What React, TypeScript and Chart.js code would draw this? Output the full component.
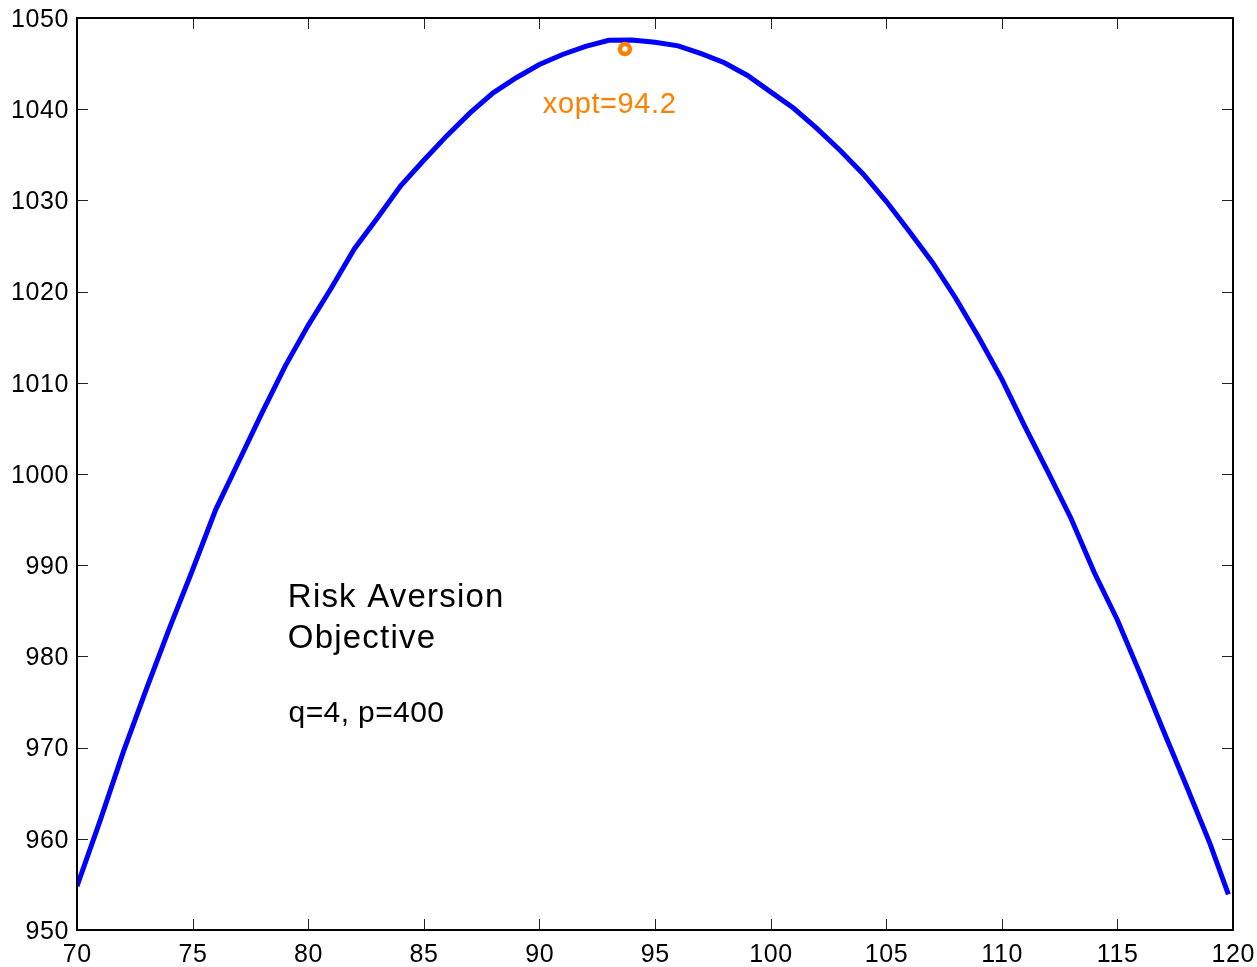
import React, { useEffect, useRef } from "react";
import { Chart, registerables } from "chart.js";

Chart.register(...registerables);

// x positions of the objective curve
const xValues = [
  70, 71, 72, 73, 74, 75, 76, 77, 78, 79, 80, 81, 82, 83, 84, 85, 86, 87, 88, 89,
  90, 91, 92, 93, 94, 95, 96, 97, 98, 99, 100, 101, 102, 103, 104, 105, 106, 107,
  108, 109, 110, 111, 112, 113, 114, 115, 116, 117, 118, 119, 119.8,
];

// objective values
const objectiveValues = [
  954.8, 962.0, 969.5, 976.4, 983.1, 989.5, 996.1, 1001.4, 1006.7, 1011.8,
  1016.3, 1020.4, 1024.7, 1028.1, 1031.6, 1034.4, 1037.1, 1039.6, 1041.8, 1043.45,
  1044.9, 1046.0, 1046.9, 1047.55, 1047.6, 1047.35, 1046.95, 1046.1, 1045.1, 1043.7,
  1041.9, 1040.1, 1037.9, 1035.5, 1032.9, 1029.9, 1026.6, 1023.2, 1019.3, 1015.0,
  1010.4, 1005.2, 1000.2, 995.1, 989.2, 984.0, 978.0, 971.8, 965.7, 959.5, 953.9,
];

// optimum marker
const optX = [93.7];
const optY = [1046.6];

const xTickValues = [70, 75, 80, 85, 90, 95, 100, 105, 110, 115, 120];
const xTickLabels = ["70", "75", "80", "85", "90", "95", "100", "105", "110", "115", "120"];
const yTickValues = [950, 960, 970, 980, 990, 1000, 1010, 1020, 1030, 1040, 1050];
const yTickLabels = ["950", "960", "970", "980", "990", "1000", "1010", "1020", "1030", "1040", "1050"];

const optLabel = "xopt=94.2";
const titleLines = ["Risk Aversion", "Objective"];
const paramLabel = "q=4, p=400";

const FONT = "Arial, 'Liberation Sans', Helvetica, sans-serif";
const ORANGE = "#ff8000";

function setSpacing(ctx: any, px: number) {
  if ("letterSpacing" in ctx) ctx.letterSpacing = `${px}px`;
}

const framePlugin = {
  id: "matlabFrame",
  afterDatasetsDraw(chart: any) {
    const { ctx, chartArea, scales } = chart;
    const { left, right, top, bottom } = chartArea;
    const xs = scales.x;
    const ys = scales.y;
    ctx.save();
    // tick marks (inward, all four sides)
    ctx.strokeStyle = "#222";
    ctx.lineWidth = 1;
    const tl = 11;
    ctx.beginPath();
    for (const v of xTickValues) {
      const px = Math.round(xs.getPixelForValue(v)) + 0.5;
      ctx.moveTo(px, bottom);
      ctx.lineTo(px, bottom - tl);
      ctx.moveTo(px, top);
      ctx.lineTo(px, top + tl);
    }
    for (const v of yTickValues) {
      const py = Math.round(ys.getPixelForValue(v)) + 0.5;
      ctx.moveTo(left, py);
      ctx.lineTo(left + tl, py);
      ctx.moveTo(right, py);
      ctx.lineTo(right - tl, py);
    }
    ctx.stroke();
    // frame
    ctx.strokeStyle = "#000";
    ctx.lineWidth = 2;
    ctx.strokeRect(left, top, right - left, bottom - top);

    // tick labels
    ctx.fillStyle = "#000";
    ctx.font = `25px ${FONT}`;
    setSpacing(ctx, 0.6);
    ctx.textBaseline = "alphabetic";
    ctx.textAlign = "right";
    yTickValues.forEach((v, i) => {
      ctx.fillText(yTickLabels[i], left - 8, ys.getPixelForValue(v) + 8.8);
    });
    ctx.textAlign = "center";
    xTickValues.forEach((v, i) => {
      ctx.fillText(xTickLabels[i], xs.getPixelForValue(v) + 0.3, bottom + 32);
    });

    // annotations
    ctx.textAlign = "left";
    ctx.fillStyle = ORANGE;
    ctx.font = `29px ${FONT}`;
    setSpacing(ctx, 0.6);
    ctx.fillText(optLabel, xs.getPixelForValue(90.15), ys.getPixelForValue(1039.6));

    ctx.fillStyle = "#000";
    ctx.font = `33px ${FONT}`;
    setSpacing(ctx, 1.2);
    ctx.fillText(titleLines[0], xs.getPixelForValue(79.12), ys.getPixelForValue(985.4));
    ctx.fillText(titleLines[1], xs.getPixelForValue(79.12), ys.getPixelForValue(980.9));
    ctx.font = `30px ${FONT}`;
    setSpacing(ctx, 0.4);
    ctx.fillText(paramLabel, xs.getPixelForValue(79.15), ys.getPixelForValue(972.8));
    ctx.restore();
  },
};

export default function App() {
  const canvasRef = useRef<HTMLCanvasElement | null>(null);

  useEffect(() => {
    if (!canvasRef.current) return;
    const chart = new Chart(canvasRef.current, {
      type: "line",
      data: {
        datasets: [
          {
            label: "objective",
            data: xValues.map((x, i) => ({ x, y: objectiveValues[i] })),
            borderColor: "#0000ff",
            borderWidth: 5,
            pointRadius: 0,
            fill: false,
            tension: 0,
            order: 2,
          },
          {
            label: "opt",
            type: "scatter",
            data: optX.map((x, i) => ({ x, y: optY[i] })),
            borderColor: ORANGE,
            pointBorderColor: ORANGE,
            backgroundColor: "rgba(0,0,0,0)",
            pointBackgroundColor: "rgba(0,0,0,0)",
            borderWidth: 4.5,
            pointRadius: 5,
            pointBorderWidth: 4.5,
            showLine: false,
            order: 1,
          },
        ],
      },
      options: {
        animation: false,
        responsive: false,
        maintainAspectRatio: false,
        layout: { padding: { left: 0, right: 24, top: 18, bottom: 0 } },
        plugins: {
          legend: { display: false },
          tooltip: { enabled: false },
          title: { display: false },
        },
        scales: {
          x: {
            type: "linear",
            min: 70,
            max: 120,
            grid: { display: false, drawTicks: false },
            border: { display: false },
            ticks: { display: false },
            afterFit: (s: any) => {
              s.height = 37;
              s.paddingLeft = 0;
              s.paddingRight = 0;
              s.paddingTop = 0;
              s.paddingBottom = 0;
            },
          },
          y: {
            type: "linear",
            min: 950,
            max: 1050,
            grid: { display: false, drawTicks: false },
            border: { display: false },
            ticks: { display: false },
            afterFit: (s: any) => {
              s.width = 77;
              s.paddingLeft = 0;
              s.paddingRight = 0;
              s.paddingTop = 0;
              s.paddingBottom = 0;
            },
          },
        },
      },
      plugins: [framePlugin],
    });
    return () => chart.destroy();
  }, []);

  return (
    <div style={{ position: "absolute", left: 0, top: 0, width: 1257, height: 967, background: "#fff" }}>
      <canvas ref={canvasRef} width={1257} height={967} style={{ width: 1257, height: 967, display: "block" }} />
    </div>
  );
}
